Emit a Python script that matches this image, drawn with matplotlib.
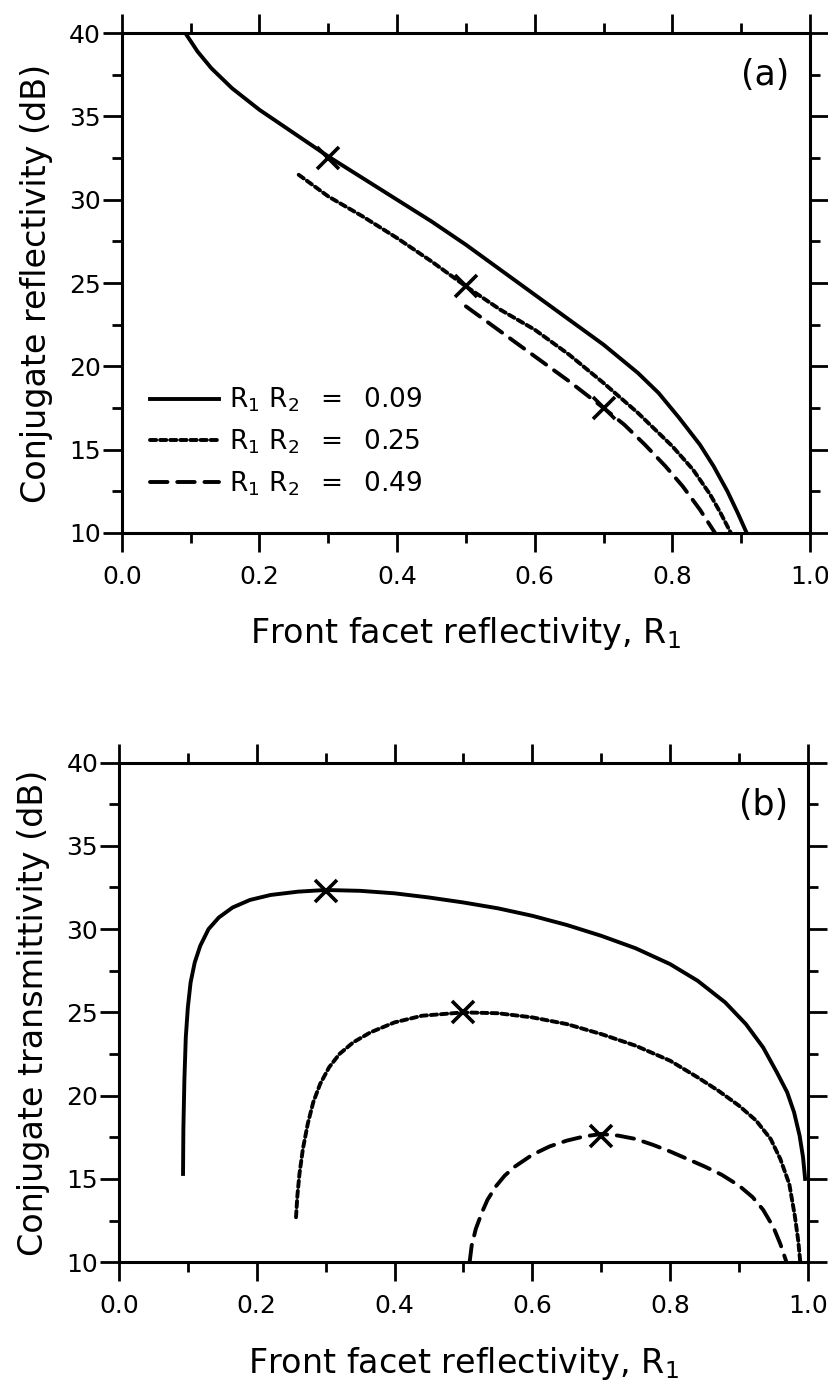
import matplotlib
matplotlib.use("Agg")
import matplotlib.pyplot as plt
from matplotlib.ticker import MultipleLocator

plt.rcParams['font.family'] = ['DejaVu Sans']
plt.rcParams['mathtext.fontset'] = 'dejavusans'

# Panel (a): conjugate reflectivity (dB) vs front facet reflectivity R1
refl_x_009 = [0.094, 0.11, 0.13, 0.16, 0.20, 0.25, 0.30, 0.35, 0.40, 0.45, 0.50, 0.55, 0.60,
              0.65, 0.70, 0.75, 0.78, 0.81, 0.84, 0.86, 0.88, 0.895, 0.908]
refl_y_009 = [39.9, 38.9, 37.9, 36.7, 35.4, 34.0, 32.6, 31.3, 30.0, 28.7, 27.3, 25.8, 24.3,
              22.8, 21.3, 19.6, 18.4, 16.9, 15.3, 14.0, 12.5, 11.2, 10.0]
refl_x_025 = [0.257, 0.30, 0.35, 0.40, 0.45, 0.50, 0.55, 0.60, 0.65, 0.70, 0.75, 0.80,
              0.83, 0.855, 0.87, 0.885]
refl_y_025 = [31.5, 30.2, 29.0, 27.7, 26.3, 24.8, 23.4, 22.2, 20.7, 19.0, 17.2, 15.2,
              13.8, 12.3, 11.2, 10.0]
refl_x_049 = [0.50, 0.55, 0.60, 0.65, 0.70, 0.73, 0.76, 0.79, 0.815, 0.84, 0.862]
refl_y_049 = [23.6, 22.1, 20.6, 19.1, 17.5, 16.5, 15.3, 14.0, 12.8, 11.4, 10.0]

# Panel (b): conjugate transmittivity (dB)
trans_x_009 = [0.093, 0.0935, 0.095, 0.097, 0.100, 0.104, 0.110, 0.118, 0.13, 0.145, 0.165, 0.19,
               0.22, 0.26, 0.30, 0.35, 0.40, 0.45, 0.50, 0.55, 0.60, 0.65, 0.70, 0.75, 0.80,
               0.84, 0.88, 0.91, 0.935, 0.955, 0.97, 0.98, 0.988, 0.993, 0.996]
trans_y_009 = [15.3, 18.0, 21.0, 23.5, 25.3, 26.8, 28.0, 29.0, 30.0, 30.7, 31.3, 31.75,
               32.05, 32.25, 32.35, 32.3, 32.15, 31.9, 31.6, 31.25, 30.8, 30.25, 29.6, 28.85, 27.9,
               26.9, 25.6, 24.3, 22.9, 21.4, 20.2, 19.0, 17.6, 16.3, 15.0]
trans_x_025 = [0.257, 0.259, 0.262, 0.267, 0.274, 0.282, 0.292, 0.305, 0.32, 0.34, 0.365, 0.40,
               0.44, 0.50, 0.55, 0.60, 0.65, 0.70, 0.75, 0.80, 0.84, 0.87, 0.90, 0.925,
               0.946, 0.96, 0.973, 0.981, 0.986, 0.989]
trans_y_025 = [12.7, 14.0, 15.3, 16.8, 18.3, 19.6, 20.7, 21.7, 22.5, 23.2, 23.8, 24.4,
               24.8, 25.0, 24.95, 24.7, 24.3, 23.7, 23.0, 22.1, 21.1, 20.3, 19.4, 18.5,
               17.4, 16.2, 14.7, 12.8, 11.3, 10.0]
trans_x_049 = [0.509, 0.512, 0.518, 0.527, 0.535, 0.547, 0.56, 0.575, 0.60, 0.625, 0.65, 0.675,
               0.70, 0.725, 0.75, 0.775, 0.80, 0.825, 0.85, 0.875, 0.90, 0.92, 0.935, 0.95,
               0.96, 0.969]
trans_y_049 = [10.0, 11.0, 12.0, 13.0, 13.75, 14.55, 15.2, 15.75, 16.45, 16.95, 17.3, 17.55,
               17.7, 17.6, 17.4, 17.05, 16.65, 16.2, 15.75, 15.25, 14.6, 13.9, 13.15, 12.1,
               11.1, 10.0]

# optimum points (crosses)
opt_x = [0.3, 0.5, 0.7]
opt_refl = [32.5, 24.8, 17.5]
opt_trans = [32.3, 25.0, 17.6]

labels = [r"$\mathregular{R_1\ R_2\ \;=\ \;0.09}$",
          r"$\mathregular{R_1\ R_2\ \;=\ \;0.25}$",
          r"$\mathregular{R_1\ R_2\ \;=\ \;0.49}$"]
styles = [dict(linestyle="-"),
          dict(linestyle=(0, (1.6, 1.0)), dash_capstyle="round"),
          dict(linestyle=(0, (4.5, 2.5)), dash_capstyle="round")]

LW = 2.8
FS_TICK = 18
FS_LABEL = 24


def style_axes(ax, ylabel, tag):
    ax.set_xlim(0.0, 1.0)
    ax.set_ylim(10, 40)
    ax.xaxis.set_major_locator(MultipleLocator(0.2))
    ax.xaxis.set_minor_locator(MultipleLocator(0.1))
    ax.yaxis.set_major_locator(MultipleLocator(5))
    ax.yaxis.set_minor_locator(MultipleLocator(2.5))
    ax.xaxis.set_major_formatter(plt.FuncFormatter(lambda v, p: f"{v:.1f}"))
    ax.tick_params(which="both", direction="out", top=True, right=True, width=2.0)
    ax.tick_params(which="major", length=14)
    ax.tick_params(which="minor", length=7)
    ax.tick_params(axis="x", labelsize=FS_TICK, pad=9)
    ax.tick_params(axis="y", labelsize=FS_TICK, pad=1)
    for s in ax.spines.values():
        s.set_linewidth(2.2)
    ax.set_xlabel(r"Front facet reflectivity, $\mathregular{R_1}$", fontsize=FS_LABEL)
    ax.set_ylabel(ylabel, fontsize=FS_LABEL)
    ax.xaxis.set_label_coords(0.5, -0.165)
    ax.yaxis.set_label_coords(-0.100, 0.5)
    ax.text(0.935, 0.916, tag, transform=ax.transAxes, fontsize=25,
            ha="center", va="center")


fig = plt.figure(figsize=(8.29, 13.84), dpi=100)
ax1 = fig.add_axes([0.147, 0.615, 0.830, 0.361])
ax2 = fig.add_axes([0.1435, 0.088, 0.831, 0.361])

series_a = [(refl_x_009, refl_y_009), (refl_x_025, refl_y_025), (refl_x_049, refl_y_049)]
series_b = [(trans_x_009, trans_y_009), (trans_x_025, trans_y_025), (trans_x_049, trans_y_049)]

for (x, y), lab, st in zip(series_a, labels, styles):
    ax1.plot(x, y, color="black", lw=LW, label=lab, solid_joinstyle="round", **st)
ax1.plot(opt_x, opt_refl, "x", color="black", ms=16, mew=2.6)

for (x, y), st in zip(series_b, styles):
    ax2.plot(x, y, color="black", lw=LW, solid_joinstyle="round", **st)
ax2.plot(opt_x, opt_trans, "x", color="black", ms=16, mew=2.6)

style_axes(ax1, "Conjugate reflectivity (dB)", "(a)")
style_axes(ax2, "Conjugate transmittivity (dB)", "(b)")

ax1.legend(loc="center left", bbox_to_anchor=(0.041, 0.182), frameon=False,
           fontsize=19, handlelength=2.6, handletextpad=0.4, labelspacing=0.5,
           borderpad=0, borderaxespad=0)

fig.savefig("out.png", dpi=100)
